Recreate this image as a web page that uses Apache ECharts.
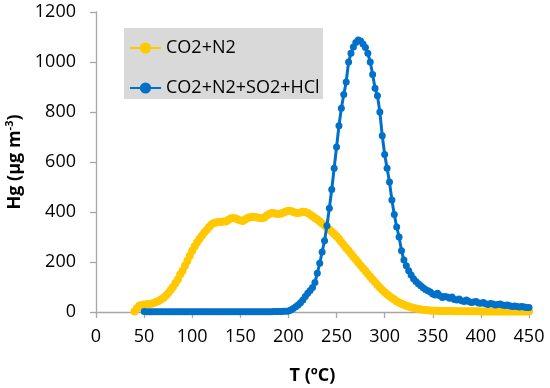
<!DOCTYPE html>
<html>
<head>
<meta charset="utf-8">
<script src="https://cdn.jsdelivr.net/npm/echarts@6/dist/echarts.min.js"></script>
<style>
html,body{margin:0;padding:0;background:#fff;}
#c{width:550px;height:388px;}
</style>
</head>
<body>
<div id="c"></div>
<script>
// Temperature (ºC) sample points shared by both series
var temps = [
  40,42.5,45,47.5,50,52.5,55,57.5,60,62.5,
  65,67.5,70,72.5,75,77.5,80,82.5,85,87.5,
  90,92.5,95,97.5,100,102.5,105,107.5,110,112.5,
  115,117.5,120,122.5,125,127.5,130,132.5,135,137.5,
  140,142.5,145,147.5,150,152.5,155,157.5,160,162.5,
  165,167.5,170,172.5,175,177.5,180,182.5,185,187.5,
  190,192.5,195,197.5,200,202.5,205,207.5,210,212.5,
  215,217.5,220,222.5,225,227.5,230,232.5,235,237.5,
  240,242.5,245,247.5,250,252.5,255,257.5,260,262.5,
  265,267.5,270,272.5,275,277.5,280,282.5,285,287.5,
  290,292.5,295,297.5,300,302.5,305,307.5,310,312.5,
  315,317.5,320,322.5,325,327.5,330,332.5,335,337.5,
  340,342.5,345,347.5,350,352.5,355,357.5,360,362.5,
  365,367.5,370,372.5,375,377.5,380,382.5,385,387.5,
  390,392.5,395,397.5,400,402.5,405,407.5,410,412.5,
  415,417.5,420,422.5,425,427.5,430,432.5,435,437.5,
  440,442.5,445,447.5,450
];
// Hg (µg m-3), CO2+N2
var hgCO2N2 = [
  2,15,25,28,30,30,32,33,36,40,
  44,50,56,65,75,88,100,115,130,150,
  165,185,205,225,245,262,278,292,305,318,
  328,340,350,356,358,360,360,362,362,368,
  374,376,374,370,366,364,370,376,379,381,
  380,378,376,375,378,386,392,396,395,393,
  392,394,398,402,405,404,400,397,396,398,
  401,400,396,390,383,376,370,362,354,346,
  338,330,321,312,303,292,280,268,256,245,
  233,221,210,198,186,175,164,152,141,130,
  119,108,98,88,79,71,63,56,50,43,
  38,33,29,25,22,19,16,14,12,10,
  9,8,7,6,5,5,5,4,4,4,
  4,4,4,3,3,3,3,3,3,3,
  3,3,3,3,2,2,2,2,2,2,
  2,2,2,2,2,2,2,2,2,2,
  2,2,2,2,2
];
// Hg (µg m-3), CO2+N2+SO2+HCl
var hgSO2HCl = [
  null,null,null,null,2,1,1,1,1,1,
  1,1,1,1,1,1,1,1,1,1,
  1,1,1,1,1,1,1,1,1,1,
  1,1,1,1,1,1,1,1,1,1,
  1,1,1,1,1,1,1,1,1,1,
  1,1,1,1,1,1,1,1,2,2,
  2,2,3,3,4,8,14,21,28,37,
  48,62,75,86,98,118,155,195,240,285,
  345,415,490,575,660,745,815,870,920,1000,
  1035,1060,1078,1088,1084,1072,1058,1035,1000,950,
  895,865,800,705,630,575,520,448,390,340,
  300,245,208,185,165,148,133,122,113,105,
  97,90,85,80,72,68,75,65,58,62,
  60,55,60,50,48,52,45,42,48,42,
  38,40,42,36,35,38,33,30,34,32,
  28,30,32,28,26,28,25,22,24,22,
  20,22,20,18,18
];
var seriesNames = ['CO2+N2', 'CO2+N2+SO2+HCl'];
var xTicks = {min: 0, max: 450, interval: 50};
var yTicks = {min: 0, max: 1200, interval: 200};

function pairs(ys) {
  var out = [];
  for (var i = 0; i < temps.length; i++) out.push([temps[i], ys[i]]);
  return out;
}

var FONT = '"Open Sans", "Noto Sans", sans-serif';
var chart = echarts.init(document.getElementById('c'), null, {renderer: 'canvas'});
chart.setOption({
  animation: false,
  backgroundColor: '#ffffff',
  textStyle: {fontFamily: FONT},
  grid: {left: 96, right: 21, top: 12, bottom: 76, containLabel: false, outerBoundsMode: 'none'},
  graphic: [{
    type: 'rect', left: 124, top: 28, z: 5,
    shape: {width: 199, height: 71},
    style: {fill: '#D9D9D9'}
  }],
  legend: {
    orient: 'vertical', left: 124, top: 28, z: 6,
    padding: [11, 6, 10, 5],
    itemWidth: 31, itemHeight: 14, itemGap: 22,
    textStyle: {fontFamily: FONT, fontSize: 18, color: '#000'},
    data: seriesNames
  },
  xAxis: {
    type: 'value', min: xTicks.min, max: xTicks.max, interval: xTicks.interval,
    name: 'T (ºC)', nameLocation: 'middle', nameGap: 55,
    nameTextStyle: {fontFamily: FONT, fontSize: 18, fontWeight: 'bold', color: '#000'},
    axisLine: {show: true, onZero: false, lineStyle: {color: '#A6A6A6', width: 1.3}},
    axisTick: {show: true, length: 6, lineStyle: {color: '#A6A6A6', width: 1.3}},
    axisLabel: {fontFamily: FONT, fontSize: 18, color: '#000', margin: 16,
      formatter: function (v) { return String(v); }},
    splitLine: {show: false}
  },
  yAxis: {
    type: 'value', min: yTicks.min, max: yTicks.max, interval: yTicks.interval,
    name: '{b|Hg (μg m}{s|-3}{b|)}', nameLocation: 'middle', nameGap: 70, nameRotate: 90,
    nameTextStyle: {
      color: '#000',
      rich: {
        b: {fontFamily: FONT, fontSize: 18, fontWeight: 'bold', color: '#000', lineHeight: 22},
        s: {fontFamily: FONT, fontSize: 11, fontWeight: 'bold', color: '#000', verticalAlign: 'top', lineHeight: 22}
      }
    },
    axisLine: {show: true, lineStyle: {color: '#A6A6A6', width: 1.3}},
    axisTick: {show: true, length: 6, lineStyle: {color: '#A6A6A6', width: 1.3}},
    axisLabel: {fontFamily: FONT, fontSize: 18, color: '#000', margin: 20,
      formatter: function (v) { return String(v); }},
    splitLine: {show: false}
  },
  series: [
    {
      name: seriesNames[0], type: 'line', data: pairs(hgCO2N2),
      showAllSymbol: true, symbol: 'circle', symbolSize: 8,
      itemStyle: {color: '#FFC800'},
      lineStyle: {color: '#FFC800', width: 3.5},
      z: 2
    },
    {
      name: seriesNames[1], type: 'line', data: pairs(hgSO2HCl),
      showAllSymbol: true, symbol: 'circle', symbolSize: 7,
      itemStyle: {color: '#0070C8'},
      lineStyle: {color: '#0070C8', width: 3},
      z: 3
    }
  ]
});
</script>
</body>
</html>
